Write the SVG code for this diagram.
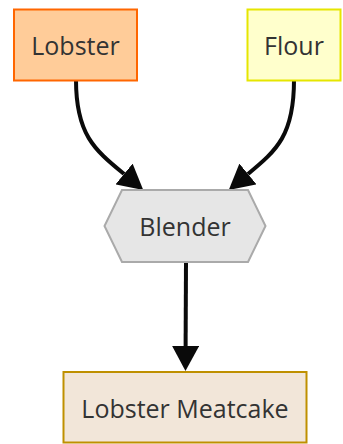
<svg xmlns="http://www.w3.org/2000/svg" width="343" height="444" viewBox="0 0 343 444">
<style>
text{font-family:"Open Sans","Noto Sans",sans-serif;font-size:25px;fill:#333;text-anchor:middle;dominant-baseline:central}
.edge{fill:none;stroke:#0a0a0a;stroke-width:4}
</style>
<defs>
<marker id="arr" markerUnits="userSpaceOnUse" viewBox="0 0 25 27" refX="0" refY="13.5" markerWidth="25" markerHeight="27" orient="auto">
<path d="M0,0 L25,13.5 L0,27 z" fill="#0a0a0a"/>
</marker>
</defs>
<rect width="343" height="444" fill="#fff"/>
<g id="edges">
<path class="edge" d="M76,80 C76,135 95,150 124,174" marker-end="url(#arr)"/>
<path class="edge" d="M294,80 C294,135 277,150 248,174" marker-end="url(#arr)"/>
<path class="edge" d="M186,262 L185.6,346" marker-end="url(#arr)"/>
</g>
<g id="lobster">
<rect x="14" y="9.5" width="123" height="71" fill="#ffcc99" stroke="#ff6600" stroke-width="2"/>
<text x="75.5" y="45">Lobster</text>
</g>
<g id="flour">
<rect x="247.5" y="9.5" width="93" height="71" fill="#ffffcc" stroke="#e6e600" stroke-width="2"/>
<text x="294" y="45">Flour</text>
</g>
<g id="blender">
<polygon points="122,190 248,190 265.5,226 248,262 122,262 104.5,226" fill="#e6e6e6" stroke="#aaaaaa" stroke-width="2"/>
<text x="185" y="226">Blender</text>
</g>
<g id="meatcake">
<rect x="63.5" y="372" width="243" height="70.5" fill="#f2e6d9" stroke="#bf9000" stroke-width="2"/>
<text x="185" y="407.5">Lobster Meatcake</text>
</g>
</svg>
